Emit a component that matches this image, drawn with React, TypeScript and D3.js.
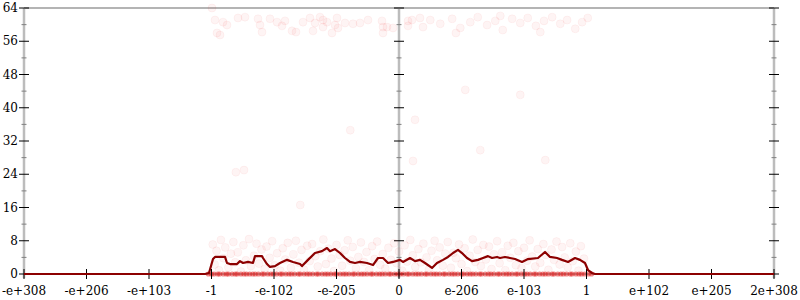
import React from "react";
import * as d3 from "d3";

const xTickLabels = ["-e+308", "-e+206", "-e+103", "-1", "-e-102", "-e-205", "0", "e-206", "e-103", "1", "e+102", "e+205", "2e+308"];
const yMajorTicks = [0, 8, 16, 24, 32, 40, 48, 56, 64];
const yMinorTicks = [4, 12, 20, 28, 36, 44, 52, 60];

// density line (x in axis units 0..12, y in value)
const lineX = [0, 2.896, 2.96, 3.024, 3.056, 3.216, 3.248, 3.296, 3.408, 3.456, 3.504, 3.584, 3.664, 3.696, 3.808, 3.824, 3.888, 3.936, 4.016, 4.096, 4.208, 4.304, 4.416, 4.448, 4.544, 4.656, 4.768, 4.848, 4.896, 4.976, 5.056, 5.136, 5.216, 5.296, 5.376, 5.488, 5.584, 5.664, 5.744, 5.824, 5.904, 6.016, 6.064, 6.176, 6.256, 6.336, 6.416, 6.528, 6.608, 6.704, 6.784, 6.864, 6.944, 7.008, 7.088, 7.168, 7.264, 7.344, 7.424, 7.488, 7.568, 7.616, 7.696, 7.776, 7.856, 7.968, 8.064, 8.224, 8.336, 8.416, 8.528, 8.608, 8.704, 8.816, 8.896, 8.976, 9.024, 9.088, 9.136, 12];
const lineY = [0, 0, 0.24, 3.6, 4.1, 4.1, 2.65, 2.4, 2.4, 3.1, 2.65, 2.9, 2.65, 4.3, 4.3, 3.85, 2.4, 1.7, 1.9, 2.65, 3.4, 2.9, 2.4, 1.9, 3.4, 5.05, 5.5, 6.25, 5.5, 6.0, 5.05, 3.85, 2.9, 2.65, 2.9, 2.65, 2.15, 3.85, 3.85, 2.65, 2.9, 3.4, 2.9, 3.85, 3.1, 3.4, 2.65, 1.45, 2.65, 3.4, 4.1, 5.05, 5.8, 5.05, 3.85, 3.1, 3.4, 3.85, 4.3, 3.85, 4.1, 3.85, 4.1, 3.85, 3.6, 2.9, 3.6, 3.85, 5.3, 4.1, 3.85, 3.4, 2.9, 3.85, 3.4, 2.65, 0.96, 0.24, 0, 0];

// faint sample points, low band
const lowX = [3.02, 3.05, 3.08, 3.12, 3.15, 3.19, 3.22, 3.27, 3.31, 3.35, 3.38, 3.42, 3.47, 3.51, 3.55, 3.6, 3.63, 3.68, 3.72, 3.76, 3.8, 3.85, 3.88, 3.93, 3.97, 4.01, 4.05, 4.1, 4.14, 4.18, 4.22, 4.27, 4.31, 4.35, 4.4, 4.44, 4.48, 4.53, 4.57, 4.61, 4.66, 4.7, 4.74, 4.79, 4.83, 4.87, 4.92, 4.96, 5.0, 5.05, 5.09, 5.13, 5.18, 5.22, 5.26, 5.31, 5.35, 5.39, 5.44, 5.48, 5.52, 5.57, 5.61, 5.65, 5.7, 5.74, 5.78, 5.83, 5.87, 5.92, 5.96, 6.0, 6.05, 6.09, 6.13, 6.18, 6.22, 6.26, 6.31, 6.35, 6.39, 6.44, 6.48, 6.52, 6.57, 6.61, 6.65, 6.7, 6.74, 6.78, 6.83, 6.87, 6.91, 6.96, 7.0, 7.05, 7.09, 7.13, 7.18, 7.22, 7.26, 7.31, 7.35, 7.39, 7.44, 7.48, 7.52, 7.57, 7.61, 7.65, 7.7, 7.74, 7.78, 7.83, 7.87, 7.91, 7.96, 8.0, 8.05, 8.09, 8.13, 8.18, 8.22, 8.26, 8.31, 8.35, 8.39, 8.44, 8.48, 8.52, 8.57, 8.61, 8.65, 8.7, 8.74, 8.78, 8.83, 8.87, 8.91, 8.96];
const lowY = [7.1, 2.3, 5.6, 0.9, 8.2, 3.8, 6.4, 1.6, 4.9, 7.7, 2.8, 5.2, 0.6, 6.9, 3.3, 8.4, 1.9, 4.4, 7.3, 2.5, 5.9, 1.2, 6.6, 3.9, 7.9, 2.1, 5.0, 0.8, 6.2, 3.5, 7.5, 1.5, 4.7, 8.0, 2.7, 5.8, 1.0, 6.8, 3.1, 7.2, 4.3, 1.8, 5.5, 8.3, 2.4, 6.1, 3.7, 0.7, 7.0, 4.6, 2.0, 5.7, 8.1, 3.2, 6.5, 1.4, 4.1, 7.6, 2.9, 5.3, 0.9, 6.7, 3.6, 7.8, 2.2, 4.8, 1.3, 6.3, 3.4, 7.4, 2.6, 5.4, 0.8, 6.9, 3.0, 8.2, 4.5, 1.7, 6.0, 2.8, 7.3, 4.0, 1.1, 5.6, 8.0, 3.3, 6.4, 2.0, 4.9, 7.7, 1.5, 5.1, 3.8, 7.1, 2.4, 6.2, 0.7, 4.4, 8.3, 2.9, 5.8, 1.9, 7.0, 3.5, 6.6, 1.2, 4.7, 7.9, 2.6, 5.2, 0.9, 6.8, 3.9, 7.5, 2.1, 5.5, 1.4, 6.3, 3.2, 8.1, 4.2, 1.8, 6.0, 2.7, 7.2, 4.6, 1.0, 5.9, 3.4, 7.8, 2.3, 6.5, 4.0, 1.6, 7.4, 3.1, 5.4, 0.8, 6.7, 3.7];

// faint sample points, high band
const highX = [3.056, 3.184, 3.248, 3.088, 3.136, 3.424, 3.536, 3.744, 3.776, 3.808, 3.936, 4.048, 4.176, 4.128, 4.288, 4.352, 4.464, 4.576, 4.656, 4.736, 4.784, 4.848, 4.624, 4.784, 4.928, 5.008, 4.976, 5.024, 5.136, 5.264, 5.376, 5.504, 5.728, 5.744, 5.808, 5.904, 5.744, 6.144, 6.208, 6.144, 6.336, 6.384, 3.008, 6.5, 6.66, 6.85, 6.98, 7.14, 7.26, 7.41, 7.54, 7.66, 7.81, 7.94, 8.06, 8.19, 8.32, 8.45, 8.58, 8.69, 8.82, 8.93, 9.02, 6.91, 7.62, 8.26];
const highY = [61.1, 60.6, 59.9, 58.0, 57.5, 61.6, 61.8, 61.4, 59.9, 58.2, 61.4, 60.6, 60.9, 59.7, 58.5, 58.2, 60.6, 61.6, 60.4, 61.8, 61.1, 60.6, 58.5, 59.4, 58.0, 61.6, 59.9, 59.2, 60.4, 60.2, 60.4, 61.1, 60.9, 59.4, 59.4, 59.2, 58.0, 60.9, 61.1, 59.7, 61.6, 59.4, 64.0, 61.1, 60.2, 61.4, 59.2, 60.6, 61.8, 59.9, 60.9, 58.7, 61.4, 60.4, 61.6, 59.7, 60.9, 61.8, 60.2, 61.1, 59.0, 60.6, 61.6, 58.0, 62.1, 58.2];

// sparse points in between
const midX = [6.256, 6.224, 3.39, 3.52, 7.94, 7.06, 8.34, 4.42, 7.3, 5.22];
const midY = [37.1, 27.2, 24.5, 25.0, 43.1, 44.3, 27.4, 16.6, 29.8, 34.6];

// points at zero
const zeroX = [2.95, 3.0, 3.04, 3.1, 3.13, 3.19, 3.24, 3.27, 3.33, 3.38, 3.41, 3.47, 3.52, 3.56, 3.61, 3.66, 3.7, 3.75, 3.81, 3.84, 3.9, 3.95, 3.99, 4.04, 4.1, 4.13, 4.19, 4.24, 4.28, 4.33, 4.39, 4.42, 4.48, 4.53, 4.57, 4.62, 4.68, 4.71, 4.77, 4.82, 4.86, 4.91, 4.97, 5.0, 5.06, 5.11, 5.15, 5.2, 5.26, 5.29, 5.35, 5.4, 5.44, 5.49, 5.55, 5.58, 5.64, 5.69, 5.73, 5.78, 5.84, 5.87, 5.93, 5.98, 6.02, 6.07, 6.13, 6.16, 6.22, 6.27, 6.31, 6.36, 6.42, 6.45, 6.51, 6.56, 6.6, 6.65, 6.71, 6.74, 6.8, 6.85, 6.89, 6.94, 7.0, 7.03, 7.09, 7.14, 7.18, 7.23, 7.29, 7.32, 7.38, 7.43, 7.47, 7.52, 7.58, 7.61, 7.67, 7.72, 7.76, 7.81, 7.87, 7.9, 7.96, 8.01, 8.05, 8.1, 8.16, 8.19, 8.25, 8.3, 8.34, 8.39, 8.45, 8.48, 8.54, 8.59, 8.63, 8.68, 8.74, 8.77, 8.83, 8.88, 8.92, 8.97, 9.03, 9.08];

const W = 800, H = 300;
const left = 24, right = 774, top = 8, bottom = 274;

export default function App() {
  const x = d3.scaleLinear().domain([0, 12]).range([left, right]);
  const y = d3.scaleLinear().domain([0, 64]).range([bottom, top]);
  const line = d3.line<number>().x((_, i) => x(lineX[i])).y((d) => y(d));
  const axisXs = [0, 6, 12];
  const font = "'DejaVu Serif', serif";
  const scatter = (xs: number[], ys: number[]) =>
    xs.map((xv, i) => (
      <circle key={i} cx={x(xv)} cy={y(ys[i])} r={4} fill="rgb(235,0,0)" fillOpacity={0.045} stroke="rgb(235,0,0)" strokeOpacity={0.045} strokeWidth={1} />
    ));
  return (
    <svg width={W} height={H} style={{ position: "absolute", left: 0, top: 0, background: "#fff" }}>
      <rect width={W} height={H} fill="#fff" />
      <line x1={left} x2={right} y1={top} y2={top} stroke="#b4b4b4" strokeWidth={2} />
      <line x1={left} x2={right} y1={bottom} y2={bottom} stroke="#b4b4b4" strokeWidth={2} />
      {axisXs.map((a) => (
        <g key={a}>
          <line x1={x(a)} x2={x(a)} y1={top} y2={bottom + 4} stroke="#bcbcbc" strokeWidth={2.5} />
          {yMinorTicks.map((t) => (
            <line key={"m" + t} x1={x(a) - 2.5} x2={x(a) + 2.5} y1={y(t)} y2={y(t)} stroke="#808080" strokeWidth={1} />
          ))}
          {yMajorTicks.map((t) => (
            <line key={"M" + t} x1={x(a) - 5} x2={x(a) + 5} y1={y(t)} y2={y(t)} stroke="#000" strokeWidth={1} />
          ))}
        </g>
      ))}
      {yMajorTicks.map((t) => (
        <text key={t} x={18} y={y(t)} dy="0.35em" textAnchor="end" fontFamily={font} fontSize={12} fill="#000">{t}</text>
      ))}
      {scatter(highX, highY)}
      {scatter(midX, midY)}
      {scatter(lowX, lowY)}
      {zeroX.map((xv, i) => (
        <circle key={"z" + i} cx={x(xv)} cy={y(0)} r={2.6} fill="rgb(225,25,25)" fillOpacity={0.5} />
      ))}
      {xTickLabels.map((lab, i) => (
        <g key={lab}>
          <line x1={x(i)} x2={x(i)} y1={bottom - 5} y2={bottom + 5} stroke="#000" strokeWidth={1} />
          <text x={x(i)} y={295} textAnchor="middle" fontFamily={font} fontSize={12} fill="#000">{lab}</text>
        </g>
      ))}
      <path d={line(lineY) || ""} fill="none" stroke="#8c0000" strokeWidth={2.2} strokeLinejoin="round" />
    </svg>
  );
}
